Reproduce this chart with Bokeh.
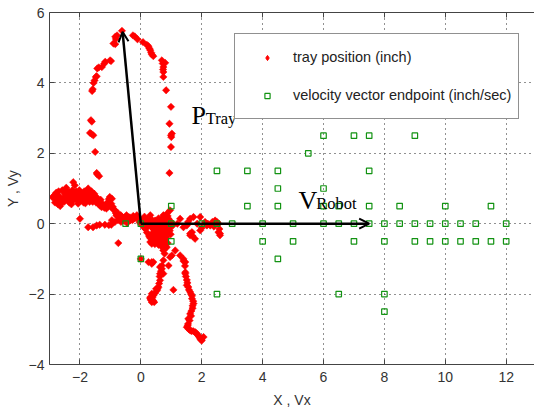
import math
from bokeh.plotting import figure
from bokeh.models import (LinearAxis, FixedTicker, Legend, LegendItem, Arrow,
                          OpenHead, Label, Range1d, ColumnDataSource, CDSView, IndexFilter)
from bokeh.embed import file_html
from bokeh.resources import INLINE

# ---------------- data ----------------
# tray position (inch)
red_x = [
    # left blob
    -2.85, -2.80, -2.75, -2.72, -2.65, -2.60, -2.55, -2.50, -2.45, -2.40, -2.35, -2.30, -2.28,
    -2.22, -2.22, -2.17, -2.15, -2.10, -2.06, -2.02, -2.00, -1.95, -1.92, -1.88, -1.84, -1.80,
    -1.76, -1.73, -1.70, -1.68, -1.65, -1.60, -1.55, -1.51, -1.47, -1.45, -1.40, -1.35, -1.32,
    -1.29, -1.25, -1.20, -1.13, -1.10, -1.05, -1.02, -0.97, -0.95, -0.92, -0.88, -0.85, -0.80,
    -0.75, -0.69, -0.62, -0.55, -0.47, -0.40, -0.31, -0.25, -0.14, -2.70, -2.58, -2.45, -2.35,
    -2.00,
    -2.90, -2.82, -2.78, -2.68, -2.62, -2.52, -2.48, -2.42, -2.38, -2.32, -2.25, -2.18, -2.12,
    -2.08, -2.04, -1.98, -1.90, -1.86, -1.82, -1.78, -1.72, -1.66, -1.62, -1.58, -1.53, -1.49,
    -1.42, -1.38, -1.30, -1.22, -1.16, -1.08, -1.00, -0.90, -0.82, -0.78, -0.72, -0.66, -0.58,
    -0.50, -0.43, -0.36, -0.28, -0.20, -0.08,
    -1.73, -1.57, -1.45, -1.35, -1.18, -1.05, -0.97, -0.74,
    # left arc
    -1.37, -1.43, -1.45, -1.50, -1.56, -1.62, -1.67, -1.61, -1.64, -1.60, -1.58, -1.55, -1.52,
    -1.48, -1.45, -1.43, -1.38, -1.28, -1.20, -1.17, -1.01, -0.98, -0.90, -0.84, -0.82, -0.84,
    -0.78, -0.62,
    # right arc
    -0.26, -0.20, -0.11, 0.07, 0.20, 0.25, 0.28, 0.31, 0.34, 0.36, 0.41, 0.69, 0.72, 0.80,
    0.74, 0.73, 0.74, 0.74, 0.83, 0.99, 0.94, 0.99, 1.02, 1.00, 0.99, 0.94,
    # central cluster
    -0.95, -0.85, -0.75, -0.65, -0.55, -0.45, -0.35, -0.24, -0.13, -0.05, 0.05, 0.14, 0.20,
    0.31, 0.31, 0.40, 0.47, 0.55, 0.63, 0.53, 0.69, 0.74, 0.74, 0.85, 0.96, 0.85, 0.74, 0.63,
    0.80, 0.85, 0.74, 0.90, 0.95, 1.00, 1.05, 0.45, 0.60, 0.70, 0.80, 0.90, 0.35, 0.25, 0.10,
    0.00, 0.15, 0.31, 0.36, 0.50, 0.58, 0.68, 0.78, 1.13, 1.29, 1.40, 1.02, 0.96, 1.46,
    0.02, 0.08, 0.12, 0.18, 0.22, 0.28, 0.33, 0.38, 0.43, 0.48, 0.52, 0.56, 0.60, 0.65, 0.66,
    0.72, 0.76, 0.78, 0.82, 0.84, 0.88, 0.70, 0.62, 0.92, 0.98, 0.45, 0.55, 0.40, 0.72, 0.88,
    0.58,
    0.20, 0.27, 0.35, 0.42, 0.50, 0.57, 0.64, 0.75, 0.82, 0.93, 0.30, 0.38, 0.46, 0.67, 0.77,
    # left branch down
    0.25, 0.36, 0.41, 0.36, 0.74, 0.63, 0.69, 0.91, 0.69, 0.74, 0.63, 0.63, 0.58, 0.53, 0.41,
    0.36, 0.31, 0.31, 0.36, 0.44, 0.50, 1.07,
    0.66, 0.62, 0.60, 0.55, 0.47, 0.38, 0.40, 0.33,
    # right branch down
    1.40, 1.46, 1.46, 1.51, 1.51, 1.56, 1.62, 1.68, 1.68, 1.73, 1.70, 1.62, 1.65, 1.56, 1.55,
    1.51, 1.58, 1.62, 1.78, 1.84, 1.89, 1.95, 2.00, 2.06,
    1.45, 1.48, 1.53, 1.58, 1.65, 1.72, 1.70, 1.66, 1.60, 1.54, 1.66, 1.72, 1.92, 1.98, 1.81,
    # horizontal right
    1.29, 1.51, 1.62, 1.73, 1.95, 1.62, 1.68, 1.62, 1.78, 1.95, 2.11, 2.17, 2.28, 2.44, 2.55,
    2.55, 2.60, 2.60, 1.40, 1.85, 2.35, 1.20,
    2.00, 2.20, 2.40, 2.50, 1.70, 1.55, 2.58,
    0.00,
]
red_y = [
    0.80, 0.70, 0.62, 0.55, 0.50, 0.60, 0.72, 0.85, 0.78, 0.68, 0.90, 0.80, 0.55,
    0.66, 1.18, 1.09, 0.85, 0.75, 0.57, 0.95, 0.65, 0.71, 0.85, 0.60, 0.80, 0.68,
    0.90, 1.00, 0.75, 0.62, 0.85, 0.70, 0.78, 0.66, 0.60, 0.75, 0.57, 0.52, 0.68,
    0.47, 0.55, 0.45, 0.43, 0.60, 0.70, 0.76, 0.57, 0.71, 0.48, 0.40, 0.38, 0.24,
    0.30, 0.14, 0.20, 0.16, 0.24, 0.18, 0.14, 0.22, 0.19, 0.92, 0.95, 1.02, 0.60,
    0.14,
    0.75, 0.60, 0.88, 0.78, 0.68, 0.62, 0.95, 0.88, 0.75, 0.65, 0.95, 0.72, 0.92,
    0.65, 0.82, 0.78, 0.72, 0.92, 0.58, 0.78, 0.85, 0.72, 0.92, 0.62, 0.85, 0.70,
    0.65, 0.62, 0.58, 0.50, 0.52, 0.48, 0.50, 0.40, 0.30, 0.22, 0.18, 0.24, 0.12,
    0.20, 0.12, 0.18, 0.10, 0.16, 0.14,
    -0.10, -0.10, -0.05, -0.03, -0.03, -0.04, -0.03, -0.55,
    1.35, 1.40, 1.44, 2.04, 2.51, 2.55, 2.58, 2.90, 2.94, 3.77, 3.82, 4.00, 4.07,
    4.17, 4.19, 4.41, 4.44, 4.45, 4.55, 4.60, 4.64, 4.62, 5.12, 5.10, 5.25, 5.31,
    5.35, 5.48,
    5.35, 5.32, 5.24, 5.16, 5.08, 5.04, 4.98, 4.93, 4.86, 4.81, 4.76, 4.64, 4.55, 4.57,
    4.45, 4.38, 4.31, 4.17, 3.79, 3.32, 2.84, 2.51, 2.56, 2.46, 2.18, 1.44,
    0.10, 0.05, 0.10, 0.05, 0.08, 0.02, 0.10, 0.14, 0.24, 0.05, 0.10, 0.14, 0.05,
    0.09, 0.24, 0.02, 0.09, 0.00, -0.10, -0.14, -0.24, 0.19, 0.24, 0.28, 0.38, -0.28, -0.38, -0.43,
    -0.52, -0.67, -0.76, -0.10, -0.20, 0.05, -0.05, -0.20, -0.30, -0.05, 0.05, 0.15, -0.10, -0.05, -0.10,
    0.00, -0.15, -0.52, -0.57, -0.45, -0.60, -0.65, -0.85, -0.76, -0.90, -1.00, -0.90, -0.95, -1.09,
    0.08, 0.02, 0.20, -0.05, 0.12, 0.02, -0.05, 0.10, -0.10, 0.02, -0.25, -0.10, 0.05, -0.20, -0.35,
    -0.15, -0.28, -0.45, -0.10, -0.38, -0.55, -0.55, -0.52, 0.02, -0.30, -0.35, -0.40, -0.52, 0.10, 0.22,
    0.15,
    -0.25, -0.35, -0.30, -0.15, -0.12, -0.28, -0.12, -0.60, -0.22, -0.15, -0.40, -0.45, -0.58, -0.50, -0.70,
    -1.09, -1.09, -1.09, -1.14, -1.04, -1.23, -1.19, -1.19, -1.28, -1.42, -1.42, -1.61, -1.80, -1.90, -2.04,
    -1.99, -2.09, -2.13, -2.23, -2.23, -1.85, -1.88,
    -1.35, -1.50, -1.70, -1.85, -1.97, -2.10, -2.18, -2.17,
    -1.06, -1.38, -1.42, -1.60, -1.75, -1.80, -1.94, -2.05, -2.13, -2.27, -2.40, -2.56, -2.62, -2.70, -2.85,
    -2.94, -3.00, -3.03, -3.08, -3.13, -3.18, -3.27, -3.32, -3.22,
    -1.20, -1.50, -1.68, -1.88, -2.00, -2.20, -2.33, -2.48, -2.75, -2.90, -3.05, -3.05, -3.22, -3.30, -3.10,
    0.14, -0.05, 0.14, 0.19, 0.19, -0.28, -0.24, -0.33, -0.43, -0.19, 0.05, -0.05, -0.05, 0.09, 0.00,
    -0.24, -0.28, -0.33, -0.10, 0.00, 0.05, 0.00,
    -0.12, 0.00, -0.08, 0.05, -0.35, 0.05, -0.15,
    -1.00,
]

# velocity vector endpoint (inch/sec)
green_x = [-0.5, 0, 1, 1, 1, 0,
           2, 2.5, 3, 4, 5, 6, 6.5, 7, 7.5, 8, 8.5, 9, 9.5, 10, 10.5, 11, 12,
           3.5, 4.5, 6, 6.5, 7.5, 8.5, 10, 11.5,
           4, 5, 7, 8, 9, 9.5, 10, 10.5, 11, 11.5, 12,
           4.5, 6,
           2.5, 3.5, 4.5, 7.5,
           5.5,
           6, 7, 7.5, 9,
           4.5,
           2.5, 6.5, 8,
           8]
green_y = [0, 0, 0.5, 0, -0.5, -1,
           0, 0, 0, 0, 0, 0, 0, 0, 0, 0, 0, 0, 0, 0, 0, 0, 0,
           0.5, 0.5, 0.5, 0.5, 0.5, 0.5, 0.5, 0.5,
           -0.5, -0.5, -0.5, -0.5, -0.5, -0.5, -0.5, -0.5, -0.5, -0.5, -0.5,
           1, 1,
           1.5, 1.5, 1.5, 1.5,
           2,
           2.5, 2.5, 2.5, 2.5,
           -1,
           -2, -2, -2,
           -2.5]

x_ticks = [-2, 0, 2, 4, 6, 8, 10, 12]
y_ticks = [-4, -2, 0, 2, 4, 6]

# vectors drawn from the origin
vec_origin = (0.0, 0.0)
vec_tray_tip = (-0.6, 5.45)
vec_robot_tip = (7.5, 0.0)

# ---------------- figure ----------------
p = figure(width=534, height=411, output_backend="svg", toolbar_location=None,
           x_range=Range1d(-3, 12.93), y_range=Range1d(-4, 6),
           min_border_left=49, min_border_right=0, min_border_top=12, min_border_bottom=47,
           x_axis_location=None, y_axis_location=None)
p.outline_line_color = None
p.background_fill_color = "white"
p.border_fill_color = "white"

axis_color = "#444444"
label_color = "#333333"
sans = "Liberation Sans"

def style_axis(ax):
    ax.axis_line_color = axis_color
    ax.axis_line_width = 1
    ax.major_tick_line_color = axis_color
    ax.major_tick_in = 5
    ax.major_tick_out = 0
    ax.minor_tick_line_color = None
    ax.major_label_text_font = sans
    ax.major_label_text_font_size = "14px"
    ax.major_label_text_color = label_color
    ax.axis_label_text_font = sans
    ax.axis_label_text_font_size = "14px"
    ax.axis_label_text_font_style = "normal"
    ax.axis_label_text_color = label_color

xax = LinearAxis(ticker=FixedTicker(ticks=x_ticks), axis_label="X , Vx")
style_axis(xax)
xax.major_label_standoff = 7
xax.axis_label_standoff = 7
p.add_layout(xax, "below")

yax = LinearAxis(ticker=FixedTicker(ticks=y_ticks), axis_label="Y , Vy")
style_axis(yax)
yax.major_label_standoff = 5
yax.axis_label_standoff = 5
p.add_layout(yax, "left")

# top spine with inward ticks, no labels
tax = LinearAxis(ticker=FixedTicker(ticks=x_ticks))
style_axis(tax)
tax.major_label_overrides = {t: "" for t in x_ticks}
tax.major_label_standoff = 0
p.add_layout(tax, "above")

p.xgrid.ticker = FixedTicker(ticks=x_ticks)
p.ygrid.ticker = FixedTicker(ticks=y_ticks)
for g in (p.xgrid, p.ygrid):
    g.grid_line_color = "#222222"
    g.grid_line_dash = "1 4"
    g.grid_line_width = 1

red_src = ColumnDataSource(dict(x=red_x, y=red_y))
green_src = ColumnDataSource(dict(x=green_x, y=green_y))

red_color = "#ff0000"
green_color = "#139313"

# red diamonds: squares turned by 45 degrees
p.scatter("x", "y", source=red_src, marker="square", size=5.2, angle=math.pi / 4,
          fill_color=red_color, line_color=red_color, line_width=0.5)
# one point redrawn as a diamond marker, used as the legend's glyph
r_red_leg = p.scatter("x", "y", source=red_src, view=CDSView(filter=IndexFilter([0])),
                      marker="diamond", size=7, fill_color=red_color, line_color=red_color)
r_green = p.scatter("x", "y", source=green_src, marker="square", size=5.5,
                    fill_color=None, line_color=green_color, line_width=1.2)

for tip in (vec_tray_tip, vec_robot_tip):
    p.add_layout(Arrow(x_start=vec_origin[0], y_start=vec_origin[1],
                       x_end=tip[0], y_end=tip[1],
                       line_color="black", line_width=2.5,
                       end=OpenHead(size=10, line_width=2, line_color="black")))

serif = "Liberation Serif"
p.add_layout(Label(x=1.66, y=3.08, text="P", text_font=serif, text_font_size="26px",
                   text_color="black", text_baseline="alphabetic"))
p.add_layout(Label(x=2.13, y=3.0, text="Tray", text_font=serif, text_font_size="16.5px",
                   text_color="black", text_baseline="alphabetic"))
p.add_layout(Label(x=5.18, y=0.66, text="V", text_font=serif, text_font_size="26px",
                   text_color="black", text_baseline="alphabetic"))
p.add_layout(Label(x=5.76, y=0.57, text="Robot", text_font=serif, text_font_size="16.5px",
                   text_color="black", text_baseline="alphabetic"))

legend = Legend(items=[LegendItem(label="tray position (inch)", renderers=[r_red_leg]),
                       LegendItem(label="velocity vector endpoint (inch/sec)", renderers=[r_green])],
                location=(185, 245), padding=7, spacing=6, glyph_width=50, glyph_height=13,
                label_height=32, label_standoff=1, margin=0,
                label_text_font=sans, label_text_font_size="14.5px", label_text_color="#222222",
                border_line_color="#222222", border_line_width=1,
                background_fill_color="white", background_fill_alpha=1.0)
p.add_layout(legend, "center")

open("out.html", "w").write(file_html(p, INLINE))
